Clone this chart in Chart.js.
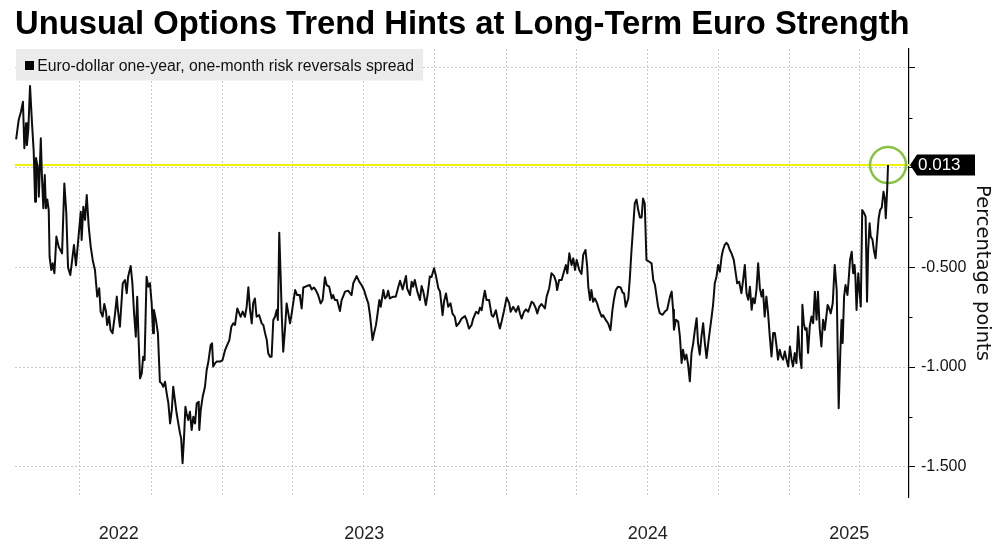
<!DOCTYPE html>
<html>
<head>
<meta charset="utf-8">
<script src="https://cdn.jsdelivr.net/npm/chart.js@4.4.1/dist/chart.umd.min.js"></script>
<style>
  html, body { margin: 0; padding: 0; background: #ffffff; }
  #wrap { width: 1000px; height: 545px; }
</style>
</head>
<body>
<div id="wrap"><canvas id="c" width="1000" height="545"></canvas></div>
<script>
// ---------------- DATA ----------------
const TITLE = 'Unusual Options Trend Hints at Long-Term Euro Strength';
const SERIES_LABEL = 'Euro-dollar one-year, one-month risk reversals spread';
const AXIS_TITLE = 'Percentage points';

// dates as decimal years
const dates = [
  2022.272,2022.281,2022.289,2022.296,2022.301,2022.307,2022.310,2022.315,2022.321,2022.328,
  2022.334,2022.339,2022.342,2022.348,2022.352,2022.359,2022.363,2022.368,2022.373,2022.377,
  2022.382,2022.387,2022.390,2022.396,2022.401,2022.407,2022.414,2022.422,2022.434,2022.442,
  2022.449,2022.455,2022.463,2022.469,2022.476,2022.483,2022.491,2022.500,2022.503,2022.509,
  2022.515,2022.521,2022.528,2022.535,2022.542,2022.550,2022.558,2022.565,2022.570,2022.577,
  2022.583,2022.589,2022.593,2022.600,2022.605,2022.612,2022.621,2022.627,2022.631,2022.638,
  2022.648,2022.656,2022.662,2022.667,2022.676,2022.682,2022.688,2022.694,2022.699,2022.704,
  2022.709,2022.715,2022.720,2022.725,2022.732,2022.738,2022.744,2022.750,2022.755,2022.758,
  2022.765,2022.772,2022.779,2022.785,2022.791,2022.797,2022.803,2022.809,2022.815,2022.821,
  2022.826,2022.832,2022.838,2022.844,2022.850,2022.854,2022.859,2022.864,2022.869,2022.873,
  2022.879,2022.885,2022.891,2022.897,2022.903,2022.909,2022.916,2022.918,2022.923,2022.930,
  2022.938,2022.944,2022.950,2022.958,2022.963,2022.967,2022.973,2022.979,2022.991,2023.000,
  2023.009,2023.014,2023.024,2023.031,2023.038,2023.044,2023.052,2023.059,2023.064,2023.071,
  2023.079,2023.085,2023.091,2023.097,2023.103,2023.108,2023.114,2023.120,2023.129,2023.138,
  2023.144,2023.150,2023.156,2023.161,2023.167,2023.173,2023.179,2023.185,2023.191,2023.195,
  2023.200,2023.205,2023.209,2023.214,2023.220,2023.226,2023.232,2023.238,2023.244,2023.249,
  2023.256,2023.263,2023.270,2023.273,2023.279,2023.285,2023.297,2023.308,2023.314,2023.322,
  2023.329,2023.337,2023.346,2023.353,2023.361,2023.367,2023.376,2023.385,2023.390,2023.396,
  2023.404,2023.414,2023.420,2023.432,2023.443,2023.455,2023.461,2023.473,2023.482,2023.490,
  2023.499,2023.506,2023.514,2023.520,2023.526,2023.529,2023.534,2023.541,2023.546,2023.553,
  2023.558,2023.567,2023.573,2023.579,2023.584,2023.590,2023.602,2023.611,2023.620,2023.626,
  2023.635,2023.647,2023.651,2023.661,2023.667,2023.672,2023.678,2023.687,2023.696,2023.702,
  2023.708,2023.717,2023.723,2023.731,2023.737,2023.746,2023.752,2023.761,2023.767,2023.776,
  2023.781,2023.788,2023.796,2023.804,2023.811,2023.819,2023.825,2023.835,2023.843,2023.855,
  2023.861,2023.869,2023.878,2023.884,2023.894,2023.902,2023.908,2023.914,2023.919,2023.925,
  2023.931,2023.940,2023.949,2023.955,2023.964,2023.972,2023.978,2023.984,2023.992,2024.002,
  2024.011,2024.016,2024.025,2024.035,2024.043,2024.049,2024.055,2024.063,2024.070,2024.078,
  2024.084,2024.090,2024.096,2024.105,2024.110,2024.117,2024.125,2024.137,2024.143,2024.152,
  2024.160,2024.169,2024.176,2024.180,2024.187,2024.196,2024.204,2024.211,2024.216,2024.223,
  2024.231,2024.237,2024.243,2024.249,2024.258,2024.266,2024.272,2024.280,2024.286,2024.290,
  2024.296,2024.301,2024.307,2024.313,2024.321,2024.328,2024.337,2024.342,2024.352,2024.360,
  2024.368,2024.375,2024.380,2024.387,2024.395,2024.404,2024.411,2024.416,2024.422,2024.431,
  2024.436,2024.442,2024.448,2024.454,2024.460,2024.466,2024.472,2024.478,2024.483,2024.489,
  2024.495,2024.505,2024.513,2024.519,2024.525,2024.531,2024.536,2024.542,2024.552,2024.560,
  2024.568,2024.578,2024.584,2024.589,2024.592,2024.599,2024.607,2024.613,2024.619,2024.624,
  2024.630,2024.636,2024.642,2024.648,2024.654,2024.660,2024.666,2024.672,2024.677,2024.683,
  2024.689,2024.695,2024.701,2024.707,2024.713,2024.719,2024.725,2024.730,2024.736,2024.742,
  2024.748,2024.754,2024.760,2024.765,2024.771,2024.777,2024.783,2024.789,2024.795,2024.803,
  2024.810,2024.815,2024.822,2024.830,2024.836,2024.842,2024.848,2024.854,2024.860,2024.866,
  2024.871,2024.877,2024.883,2024.889,2024.895,2024.901,2024.906,2024.912,2024.918,2024.924,
  2024.930,2024.936,2024.942,2024.948,2024.954,2024.959,2024.965,2024.971,2024.977,2024.983,
  2024.989,2024.995,2025.001,2025.007,2025.012,2025.018,2025.024,2025.030,2025.036,2025.042,
  2025.045,2025.050,2025.055,2025.060,2025.065,2025.071,2025.077,2025.083,2025.089,2025.095,
  2025.100,2025.106,2025.112,2025.118,2025.124,2025.134,2025.138,2025.145,2025.152,2025.159,
  2025.166,2025.173,2025.179,2025.183,2025.187,2025.192,2025.197,2025.204,2025.209,2025.213,
  2025.219,2025.224,2025.229,2025.232,2025.236,2025.242,2025.248,2025.251,2025.256,2025.263,
  2025.268,2025.273,2025.277,2025.282,2025.286,2025.292,2025.297,2025.303,2025.308,2025.314,
  2025.319,2025.325,2025.331,2025.336,2025.339,2025.344,2025.347
];

// spread, percentage points
const spread = [
  0.142,0.239,0.280,0.330,0.097,0.222,0.113,0.190,0.409,0.222,
  0.080,-0.171,0.048,0.005,-0.146,0.147,-0.046,-0.204,-0.037,-0.204,
  -0.160,-0.214,-0.447,-0.514,-0.480,-0.530,-0.346,-0.397,-0.430,-0.079,
  -0.229,-0.500,-0.539,-0.470,-0.388,-0.490,-0.363,-0.221,-0.363,-0.196,
  -0.262,-0.137,-0.296,-0.396,-0.463,-0.513,-0.647,-0.605,-0.722,-0.747,
  -0.684,-0.722,-0.789,-0.747,-0.814,-0.831,-0.731,-0.647,-0.714,-0.798,
  -0.580,-0.564,-0.630,-0.547,-0.493,-0.580,-0.731,-0.848,-0.647,-0.865,
  -1.057,-1.032,-0.948,-0.965,-0.547,-0.597,-0.580,-0.681,-0.831,-0.714,
  -0.764,-0.831,-1.074,-1.082,-1.099,-1.074,-1.132,-1.182,-1.283,-1.216,
  -1.099,-1.166,-1.232,-1.283,-1.333,-1.358,-1.483,-1.358,-1.199,-1.232,
  -1.266,-1.224,-1.316,-1.249,-1.283,-1.182,-1.174,-1.316,-1.216,-1.149,
  -1.099,-1.015,-0.973,-0.890,-0.881,-0.998,-0.982,-0.973,-0.973,-0.965,
  -0.915,-0.898,-0.865,-0.798,-0.781,-0.789,-0.706,-0.731,-0.748,-0.722,
  -0.748,-0.698,-0.600,-0.714,-0.781,-0.681,-0.656,-0.748,-0.739,-0.781,
  -0.790,-0.831,-0.865,-0.931,-0.948,-0.948,-0.764,-0.748,-0.714,-0.764,
  -0.326,-0.547,-0.747,-0.923,-0.814,-0.681,-0.731,-0.781,-0.731,-0.681,
  -0.614,-0.639,-0.639,-0.647,-0.706,-0.601,-0.594,-0.589,-0.611,-0.601,
  -0.614,-0.639,-0.681,-0.664,-0.550,-0.589,-0.597,-0.656,-0.639,-0.664,
  -0.664,-0.719,-0.664,-0.622,-0.617,-0.639,-0.580,-0.544,-0.572,-0.589,
  -0.614,-0.647,-0.681,-0.740,-0.823,-0.865,-0.832,-0.790,-0.740,-0.664,
  -0.698,-0.614,-0.656,-0.647,-0.617,-0.656,-0.647,-0.647,-0.597,-0.567,
  -0.611,-0.544,-0.606,-0.639,-0.572,-0.597,-0.564,-0.622,-0.664,-0.594,
  -0.622,-0.689,-0.639,-0.546,-0.549,-0.505,-0.538,-0.605,-0.622,-0.740,
  -0.673,-0.631,-0.698,-0.681,-0.732,-0.748,-0.795,-0.778,-0.757,-0.745,
  -0.765,-0.807,-0.790,-0.757,-0.723,-0.732,-0.702,-0.715,-0.664,-0.617,
  -0.664,-0.664,-0.740,-0.748,-0.715,-0.773,-0.807,-0.773,-0.723,-0.651,
  -0.681,-0.723,-0.698,-0.723,-0.695,-0.732,-0.757,-0.723,-0.711,-0.723,
  -0.698,-0.673,-0.678,-0.706,-0.732,-0.698,-0.684,-0.706,-0.647,-0.605,
  -0.530,-0.543,-0.572,-0.614,-0.564,-0.564,-0.522,-0.489,-0.530,-0.430,
  -0.489,-0.455,-0.513,-0.463,-0.513,-0.533,-0.438,-0.413,-0.497,-0.598,
  -0.664,-0.614,-0.673,-0.656,-0.681,-0.715,-0.748,-0.740,-0.765,-0.782,
  -0.815,-0.715,-0.664,-0.614,-0.597,-0.601,-0.627,-0.631,-0.698,-0.656,
  -0.564,-0.422,-0.300,-0.178,-0.160,-0.213,-0.250,-0.250,-0.155,-0.180,
  -0.463,-0.472,-0.480,-0.563,-0.588,-0.647,-0.697,-0.730,-0.738,-0.722,
  -0.713,-0.647,-0.622,-0.713,-0.813,-0.763,-0.772,-0.847,-0.980,-0.913,
  -0.963,-0.938,-0.988,-1.072,-0.930,-0.880,-0.813,-0.755,-0.880,-0.938,
  -0.847,-0.780,-0.880,-0.955,-0.880,-0.813,-0.747,-0.688,-0.580,-0.547,
  -0.488,-0.522,-0.447,-0.413,-0.388,-0.377,-0.388,-0.413,-0.430,-0.463,
  -0.530,-0.580,-0.572,-0.630,-0.563,-0.488,-0.630,-0.663,-0.597,-0.713,
  -0.655,-0.680,-0.613,-0.480,-0.605,-0.647,-0.613,-0.747,-0.647,-0.730,
  -0.847,-0.947,-0.830,-0.830,-0.897,-0.963,-0.913,-0.947,-0.963,-0.922,
  -0.963,-0.997,-0.897,-0.963,-0.997,-0.930,-0.980,-0.797,-0.947,-1.005,
  -0.688,-0.780,-0.813,-0.805,-0.930,-0.797,-0.747,-0.780,-0.622,-0.763,
  -0.622,-0.805,-0.897,-0.763,-0.814,-0.689,-0.700,-0.731,-0.680,-0.488,
  -0.614,-1.207,-0.915,-0.764,-0.880,-0.647,-0.589,-0.639,-0.547,-0.463,
  -0.422,-0.530,-0.488,-0.550,-0.714,-0.530,-0.647,-0.697,-0.213,-0.229,
  -0.246,-0.672,-0.413,-0.279,-0.346,-0.360,-0.413,-0.455,-0.360,-0.254,
  -0.213,-0.200,-0.121,-0.160,-0.254,-0.112,0.013
];

const yearLabels = ['2022', '2023', '2024', '2025'];
const yTicks = [0.5, 0, -0.5, -1.0, -1.5];
const yTickLabels = ['', '', '-0.500', '-1.000', '-1.500'];
const yMinorTicks = [0.25, -0.25, -0.75, -1.25];
const X_MIN = 2022.268, X_MAX = 2025.421;
const Y_MIN = -1.652, Y_MAX = 0.595;

// ---------------- HELPERS ----------------
const lastValue = spread[spread.length - 1];
const lastDate = dates[dates.length - 1];

function decimalYear(y, m) {
  return y + (Date.UTC(y, m, 1) - Date.UTC(y, 0, 1)) / (Date.UTC(y + 1, 0, 1) - Date.UTC(y, 0, 1));
}
// quarterly grid lines
const quarterTicks = [];
yearLabels.forEach(ys => {
  const y = +ys;
  [0, 3, 6, 9].forEach(m => {
    const v = decimalYear(y, m);
    if (v > X_MIN + 0.01 && v < X_MAX - 0.01) quarterTicks.push(v);
  });
});
// year labels centred on the visible part of each year
const yearTicks = yearLabels.map(ys => {
  const y = +ys;
  const s = Math.max(y, X_MIN), e = Math.min(y + 1, X_MAX);
  return (s + e) / 2;
});

const meas = document.createElement('canvas').getContext('2d');
function fitSize(text, font, target) {
  meas.font = font.replace('SIZE', '100px');
  return 100 * target / meas.measureText(text).width;
}
const titleSize = fitSize(TITLE, 'bold SIZE "Liberation Sans"', 895);
const titleLH = titleSize * 1.2;
const titlePadTop = 36.7 - 0.3465 * titleSize - titleLH / 2;
const titlePadBottom = 49 - titlePadTop - titleLH;
const legendSize = fitSize(SERIES_LABEL, 'SIZE "Liberation Sans"', 377);

// ---------------- PLUGINS ----------------
const legendBox = {
  id: 'legendBox',
  beforeDatasetsDraw(chart) {
    const { ctx, chartArea: a } = chart;
    const label = chart.data.datasets[0].label;
    ctx.save();
    ctx.font = legendSize + 'px "Liberation Sans"';
    const tw = ctx.measureText(label).width;
    const left = a.left + 1, top = a.top;
    const textX = left + 21.3;
    ctx.fillStyle = '#ebebeb';
    ctx.fillRect(left, top, textX + tw + 9 - left, 31.5);
    ctx.fillStyle = '#000';
    ctx.fillRect(left + 9, top + 12, 9, 9);
    ctx.fillStyle = '#111';
    ctx.textBaseline = 'alphabetic';
    ctx.textAlign = 'left';
    ctx.fillText(label, textX, top + 21.7);
    ctx.restore();
  }
};

const extras = {
  id: 'extras',
  afterDraw(chart) {
    const { ctx, chartArea: a, scales } = chart;
    const ys = scales.y;
    ctx.save();
    // minor ticks
    ctx.strokeStyle = '#000';
    ctx.lineWidth = 1;
    yMinorTicks.forEach(v => {
      const p = Math.round(ys.getPixelForValue(v)) + 0.5;
      ctx.beginPath();
      ctx.moveTo(a.right, p);
      ctx.lineTo(a.right + 3.5, p);
      ctx.stroke();
    });
    // latest value tag
    const y = ys.getPixelForValue(lastValue);
    const x0 = a.right + 1;
    ctx.fillStyle = '#000';
    ctx.beginPath();
    ctx.moveTo(x0, y);
    ctx.lineTo(x0 + 7, y - 10.5);
    ctx.lineTo(x0 + 65, y - 10.5);
    ctx.lineTo(x0 + 65, y + 10.5);
    ctx.lineTo(x0 + 7, y + 10.5);
    ctx.closePath();
    ctx.fill();
    ctx.fillStyle = '#fff';
    ctx.font = '17px "Liberation Sans"';
    ctx.textAlign = 'left';
    ctx.textBaseline = 'middle';
    ctx.fillText(lastValue.toFixed(3), x0 + 8, y + 0.5);
    ctx.restore();
  }
};

// ---------------- CHART ----------------
new Chart(document.getElementById('c'), {
  type: 'line',
  data: {
    datasets: [
      {
        label: SERIES_LABEL,
        data: dates.map((d, i) => ({ x: d, y: spread[i] })),
        borderColor: '#0d0d0d',
        borderWidth: 2,
        pointRadius: 0,
        tension: 0,
        borderJoinStyle: 'round',
        order: 0
      },
      {
        label: 'Latest',
        data: [{ x: X_MIN, y: lastValue }, { x: X_MAX, y: lastValue }],
        borderColor: '#f2f20c',
        borderWidth: 2,
        pointRadius: 0,
        order: 2
      },
      {
        label: 'Marker',
        data: [{ x: lastDate, y: lastValue }],
        showLine: false,
        pointRadius: 18,
        pointBorderWidth: 2.5,
        pointBorderColor: '#86c440',
        pointBackgroundColor: 'rgba(0,0,0,0)',
        order: 1
      }
    ]
  },
  options: {
    responsive: false,
    animation: false,
    layout: { autoPadding: false, padding: { left: 15, right: 0, top: 0, bottom: 0 } },
    plugins: {
      legend: { display: false },
      tooltip: { enabled: false },
      title: {
        display: true,
        text: TITLE,
        align: 'start',
        color: '#000',
        font: { family: 'Liberation Sans', size: titleSize, weight: 'bold', lineHeight: 1.2 },
        padding: { top: titlePadTop, bottom: titlePadBottom }
      }
    },
    scales: {
      x: {
        type: 'linear',
        min: X_MIN,
        max: X_MAX,
        bounds: 'data',
        afterBuildTicks: s => {
          s.ticks = quarterTicks.map(v => ({ value: v }))
            .concat(yearTicks.map((v, i) => ({ value: v, yearLabel: yearLabels[i] })));
        },
        afterFit: s => { s.height = 48; s.paddingLeft = 0; s.paddingRight = 0; },
        ticks: {
          autoSkip: false,
          maxRotation: 0,
          minRotation: 0,
          padding: 26,
          color: '#222',
          font: { family: 'Liberation Sans', size: 18 },
          callback: (v, i, ticks) => ticks[i].yearLabel || ''
        },
        grid: {
          drawTicks: false,
          lineWidth: 1,
          color: c => (c.tick && c.tick.yearLabel) ? 'rgba(0,0,0,0)' : '#c9c9c9'
        },
        border: { display: false, dash: [2, 2] }
      },
      y: {
        type: 'linear',
        position: 'right',
        min: Y_MIN,
        max: Y_MAX,
        bounds: 'data',
        afterBuildTicks: s => { s.ticks = yTicks.map(v => ({ value: v })); },
        afterFit: s => { s.width = 91; s.paddingTop = 0; s.paddingBottom = 0; },
        ticks: {
          autoSkip: false,
          padding: 6,
          color: '#111',
          font: { family: 'Liberation Sans', size: 16 },
          callback: (v, i) => yTickLabels[i]
        },
        grid: {
          color: '#c9c9c9',
          lineWidth: 1,
          tickLength: 6,
          tickColor: '#000',
          tickWidth: 1,
          tickBorderDash: []
        },
        border: { display: true, color: '#000', width: 1.2, dash: [2, 2] },
        title: {
          display: true,
          text: AXIS_TITLE,
          color: '#111',
          font: { family: 'DejaVu Sans', size: 19.5 },
          padding: { top: 6, bottom: 0 }
        }
      }
    }
  },
  plugins: [legendBox, extras]
});
</script>
</body>
</html>
